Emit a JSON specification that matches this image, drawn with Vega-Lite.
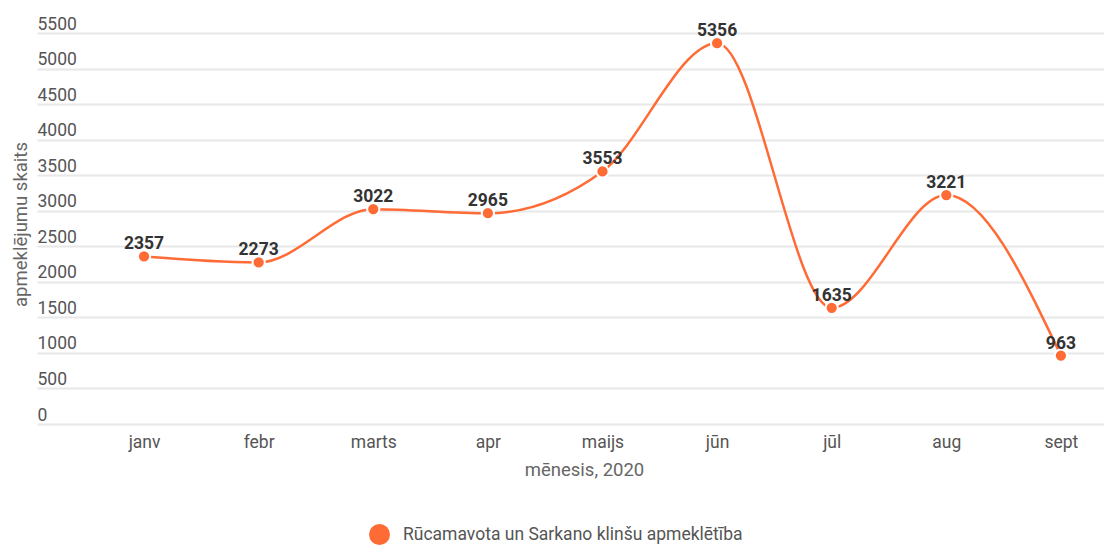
{
  "$schema": "https://vega.github.io/schema/vega-lite/v6.json",
  "width": 1067,
  "height": 391,
  "autosize": "none",
  "padding": {"left": 37, "top": 33, "right": 0, "bottom": 121},
  "background": "white",
  "config": {"view": {"stroke": null}, "font": "Roboto"},
  "data": {
    "values": [
      {"month": "janv", "visits": 2357, "series": "Rūcamavota un Sarkano klinšu apmeklētība"},
      {"month": "febr", "visits": 2273, "series": "Rūcamavota un Sarkano klinšu apmeklētība"},
      {"month": "marts", "visits": 3022, "series": "Rūcamavota un Sarkano klinšu apmeklētība"},
      {"month": "apr", "visits": 2965, "series": "Rūcamavota un Sarkano klinšu apmeklētība"},
      {"month": "maijs", "visits": 3553, "series": "Rūcamavota un Sarkano klinšu apmeklētība"},
      {"month": "jūn", "visits": 5356, "series": "Rūcamavota un Sarkano klinšu apmeklētība"},
      {"month": "jūl", "visits": 1635, "series": "Rūcamavota un Sarkano klinšu apmeklētība"},
      {"month": "aug", "visits": 3221, "series": "Rūcamavota un Sarkano klinšu apmeklētība"},
      {"month": "sept", "visits": 963, "series": "Rūcamavota un Sarkano klinšu apmeklētība"}
    ]
  },
  "encoding": {
    "x": {
      "field": "month",
      "type": "ordinal",
      "sort": null,
      "scale": {"type": "point", "padding": 0.655, "align": 0.713},
      "axis": {
        "title": "mēnesis, 2020",
        "labelAngle": 0,
        "domain": false,
        "ticks": false,
        "grid": false,
        "labelPadding": 9,
        "labelFontSize": 17.5,
        "labelColor": "#555555",
        "titleFontSize": 18.5,
        "titleFontWeight": "normal",
        "titleColor": "#666666",
        "titleX": 547,
        "titleY": 36
      }
    },
    "y": {
      "field": "visits",
      "type": "quantitative",
      "scale": {"domain": [0, 5500], "nice": false},
      "axis": {
        "title": "apmeklējumu skaits",
        "values": [0, 500, 1000, 1500, 2000, 2500, 3000, 3500, 4000, 4500, 5000, 5500],
        "format": "d",
        "domain": false,
        "ticks": false,
        "tickSize": 0,
        "labelPadding": 0,
        "labelAlign": "left",
        "labelBaseline": "alphabetic",
        "labelOffset": -4,
        "labelFontSize": 17.5,
        "labelColor": "#555555",
        "gridColor": "#e8e8e8",
        "gridWidth": 2,
        "titleFontSize": 18.5,
        "titleFontWeight": "normal",
        "titleColor": "#666666",
        "titleX": -17,
        "titleY": 191,
        "titleBaseline": "middle",
        "titleAlign": "center"
      }
    }
  },
  "layer": [
    {
      "mark": {"type": "line", "interpolate": "monotone", "strokeWidth": 2.5, "color": "#FF6B35"},
      "encoding": {}
    },
    {
      "mark": {"type": "point", "filled": true, "size": 150, "opacity": 1, "stroke": "white", "strokeWidth": 2},
      "encoding": {
        "color": {
          "field": "series",
          "type": "nominal",
          "scale": {"range": ["#FF6B35"]},
          "legend": {
            "title": null,
            "orient": "none",
            "legendX": 332,
            "legendY": 491,
            "symbolType": "circle",
            "symbolSize": 440,
            "symbolStrokeWidth": 0,
            "labelFontSize": 17.5,
            "labelColor": "#555555",
            "labelOffset": 13,
            "labelLimit": 0
          }
        }
      }
    },
    {
      "mark": {"type": "text", "dy": -7, "baseline": "alphabetic", "fontWeight": "bold", "fontSize": 17.5, "color": "#333333"},
      "encoding": {"text": {"field": "visits", "type": "quantitative", "format": "d"}}
    }
  ]
}
